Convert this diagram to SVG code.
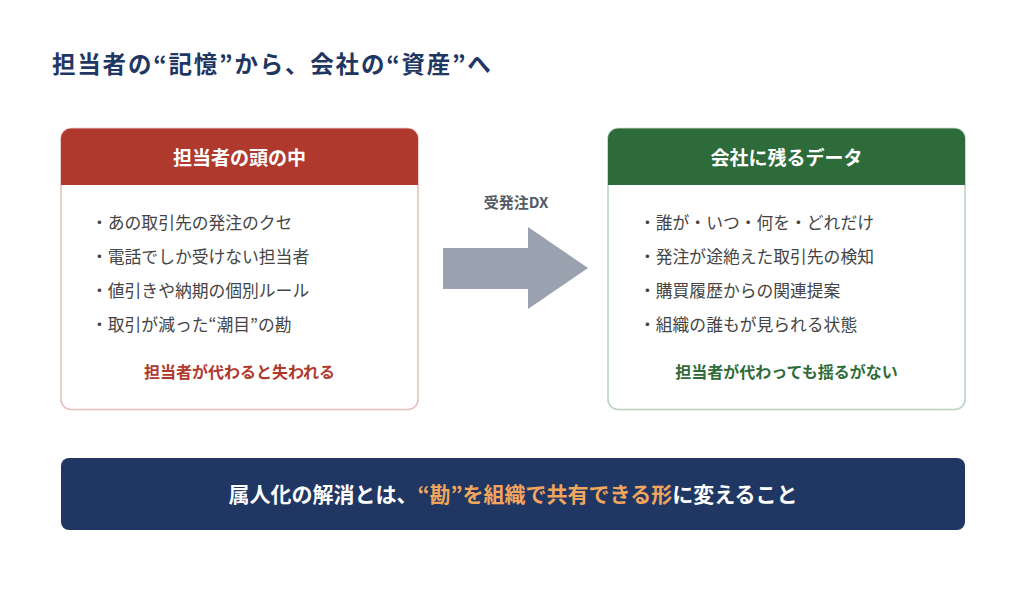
<svg xmlns="http://www.w3.org/2000/svg" width="1024" height="589" viewBox="0 0 1024 589">
<style>
text{font-family:"Noto Sans CJK JP","Noto Sans",sans-serif;}
.title{font-size:23.5px;font-weight:700;fill:#1f3763;letter-spacing:1.8px;}
.hdr{font-size:19px;font-weight:700;fill:#ffffff;text-anchor:middle;}
.item{font-size:16.8px;fill:#444444;}
.emR{font-size:16px;font-weight:700;fill:#b0392e;text-anchor:middle;}
.emG{font-size:16px;font-weight:700;fill:#2e6b3a;text-anchor:middle;}
.lbl{font-size:15px;font-weight:700;fill:#555b66;text-anchor:middle;}
.ban{font-size:21px;font-weight:700;fill:#ffffff;text-anchor:middle;}
</style>
<rect width="1024" height="589" fill="#ffffff"/>
<text class="title" x="52" y="73">担当者の“記憶”から、会社の“資産”へ</text>

<g id="left-box">
<rect x="61" y="128.5" width="357" height="281" rx="10" fill="#ffffff" stroke="#e8bdb7" stroke-width="1.5"/>
<path d="M61 185 V138.5 A10 10 0 0 1 71 128.5 H408 A10 10 0 0 1 418 138.5 V185 Z" fill="#b0392e"/>
<text class="hdr" x="239.5" y="165">担当者の頭の中</text>
<text class="item" x="91" y="229">・あの取引先の発注のクセ</text>
<text class="item" x="91" y="263">・電話でしか受けない担当者</text>
<text class="item" x="91" y="297">・値引きや納期の個別ルール</text>
<text class="item" x="91" y="331">・取引が減った“潮目”の勘</text>
<text class="emR" x="239.5" y="378">担当者が代わると失われる</text>
</g>

<g id="right-box">
<rect x="608" y="128.5" width="357" height="281" rx="10" fill="#ffffff" stroke="#b8d2bd" stroke-width="1.5"/>
<path d="M608 185 V138.5 A10 10 0 0 1 618 128.5 H955 A10 10 0 0 1 965 138.5 V185 Z" fill="#2e6b3a"/>
<text class="hdr" x="786.5" y="165">会社に残るデータ</text>
<text class="item" x="639" y="229">・誰が・いつ・何を・どれだけ</text>
<text class="item" x="639" y="263">・発注が途絶えた取引先の検知</text>
<text class="item" x="639" y="297">・購買履歴からの関連提案</text>
<text class="item" x="639" y="331">・組織の誰もが見られる状態</text>
<text class="emG" x="786.5" y="378">担当者が代わっても揺るがない</text>
</g>

<g id="connectors">
<text class="lbl" x="516" y="208">受発注DX</text>
<polygon points="443,248 528,248 528,227 588,268 528,309 528,289 443,289" fill="#9aa2af"/>
</g>

<g id="banner">
<rect x="61" y="458" width="904" height="72" rx="8" fill="#203764"/>
<text class="ban" x="513" y="501.5">属人化の解消とは、<tspan fill="#f2a55c">“勘”を組織で共有できる形</tspan>に変えること</text>
</g>
</svg>
